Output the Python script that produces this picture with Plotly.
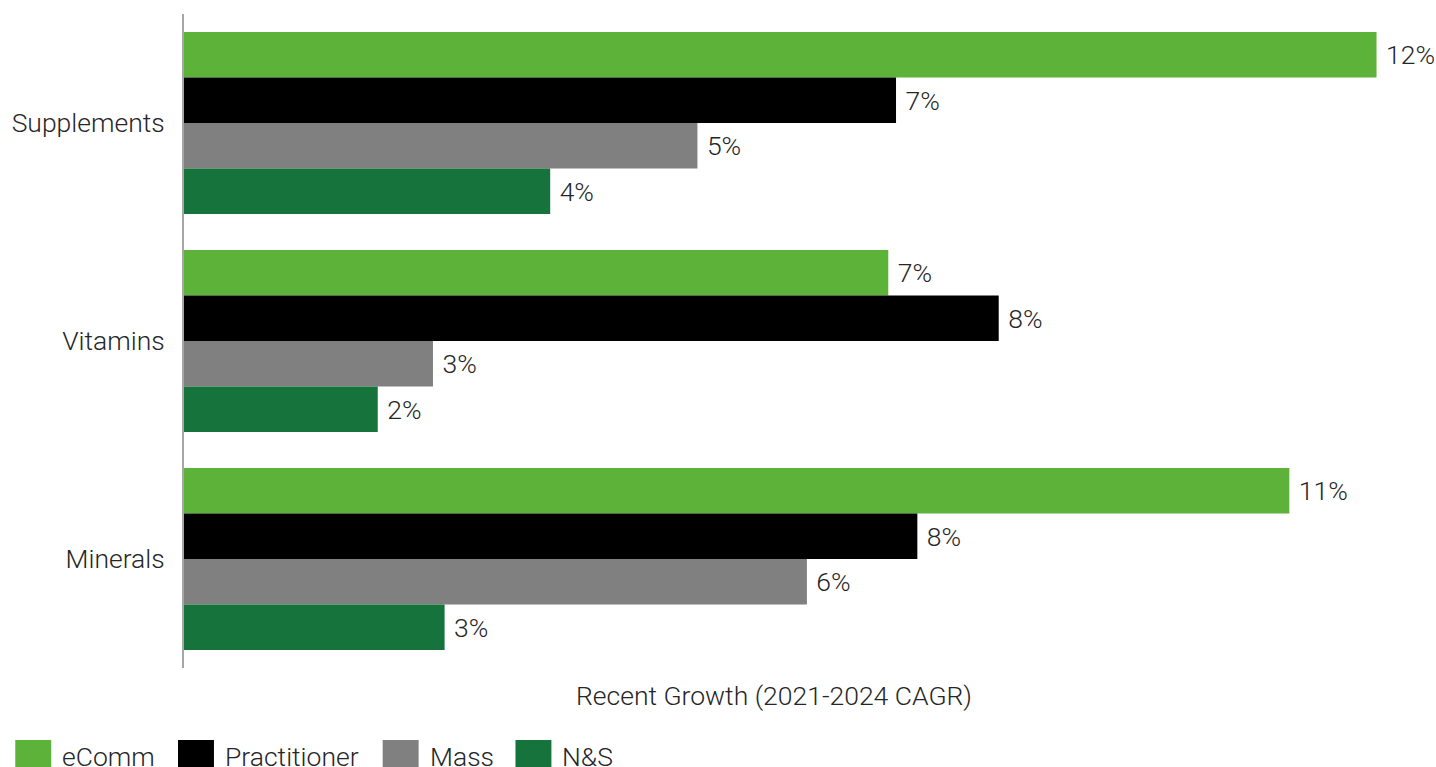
import plotly.graph_objects as go

# Growth by channel, percent CAGR 2021-2024
categories = ["Supplements", "Vitamins", "Minerals"]
channels = ["eComm", "Practitioner", "Mass", "N&S"]
ecomm = [12.31, 7.27, 11.41]
practitioner = [7.35, 8.41, 7.57]
mass = [5.30, 2.57, 6.43]
ns = [3.78, 2.00, 2.69]
colors = ["#5DB33A", "#000000", "#808080", "#17733C"]
axis_title = "Recent Growth (2021-2024 CAGR)"

W, H = 1436, 767
L, R_M, T, B = 182, 12, 14, 99
x_max = 12.8
plot_w = W - L - R_M
plot_h = H - T - B

FONT = "Roboto"
FONT_SIZE = 26.5
TEXT_COLOR = "#262626"


def px_x(p):
    return (p - L) / plot_w


def px_y(p):
    return (H - B - p) / plot_h


fig = go.Figure()
for name, vals, col in zip(channels, [ecomm, practitioner, mass, ns], colors):
    fig.add_trace(go.Bar(
        y=categories, x=vals, name=name, orientation="h",
        marker=dict(color=col, line=dict(width=0)),
        texttemplate=" %{x:.0f}%", textposition="outside",
        textfont=dict(family=FONT, size=FONT_SIZE, color=TEXT_COLOR, weight=300),
        cliponaxis=False, showlegend=False,
    ))

# legend drawn as squares + labels along the bottom
legend_x = [(13, 58), (176, 221), (381, 426), (514, 559)]
for (sx, tx), name, col in zip(legend_x, channels, colors):
    fig.add_shape(type="rect", xref="paper", yref="paper",
                  x0=px_x(sx), x1=px_x(sx + 36), y0=px_y(740), y1=px_y(776),
                  fillcolor=col, line=dict(width=0))
    fig.add_annotation(xref="paper", yref="paper", x=px_x(tx), y=px_y(757),
                       text=name, showarrow=False, xanchor="left", yanchor="middle",
                       font=dict(family=FONT, size=FONT_SIZE, color=TEXT_COLOR, weight=300))

fig.add_annotation(xref="paper", yref="paper", x=px_x(773), y=px_y(695),
                   text=axis_title, showarrow=False, xanchor="center", yanchor="middle",
                   font=dict(family=FONT, size=FONT_SIZE, color=TEXT_COLOR, weight=300))

fig.update_layout(
    width=W, height=H,
    margin=dict(l=L, r=R_M, t=T, b=B, pad=0),
    barmode="group", bargap=0.165, bargroupgap=0,
    plot_bgcolor="white", paper_bgcolor="white",
    xaxis=dict(range=[0, x_max], showgrid=False, zeroline=False,
               showticklabels=False, ticks="", showline=False),
    yaxis=dict(autorange="reversed", showgrid=False, zeroline=False,
               showline=True, linecolor="#A6A6A6", linewidth=2, ticks="",
               ticklabelstandoff=12,
               tickfont=dict(family=FONT, size=FONT_SIZE, color=TEXT_COLOR, weight=300)),
)

fig.write_html("out.html")
